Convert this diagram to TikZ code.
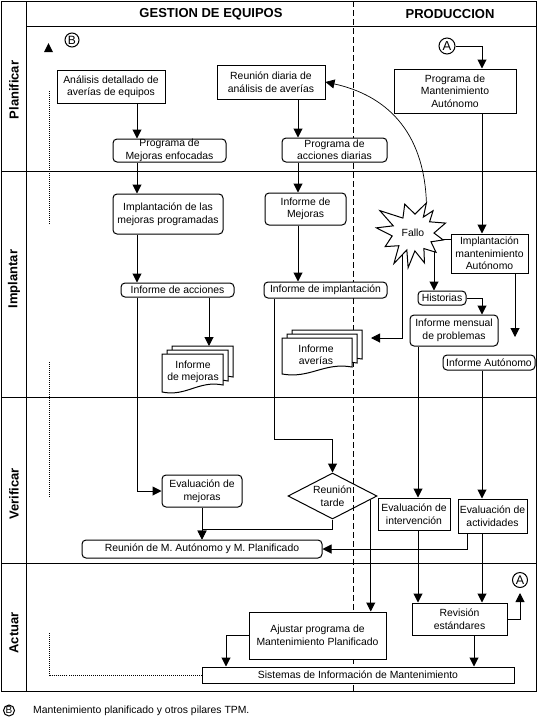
\documentclass[tikz,border=0pt]{standalone}
\usepackage{fontspec}
\setmainfont{Liberation Sans}
\usetikzlibrary{arrows.meta,shapes.geometric,calc}
\newcommand{\docpage}[4]{%
  \filldraw[fill=white,line width=1pt] (#1,#2) -- (#3,#2) -- (#3,{#4-7})
   .. controls ({#3-0.4*(#3-#1)},{#4-12}) and ({#1+0.4*(#3-#1)},{#4+5}) .. (#1,#4) -- cycle;}
\begin{document}
\begin{tikzpicture}[x=1pt,y=-1pt,
  every node/.style={font=\fontsize{10.4}{12.5}\selectfont,inner sep=0pt,align=center},
  ln/.style={line width=1pt},
  box/.style={draw,fill=white,line width=1pt},
  rbox/.style={box,rounded corners=4pt},
  arr/.style={ln,-{Triangle[width=9pt,length=9pt]}},
  hd/.style={font=\fontsize{13}{13}\selectfont\bfseries},
  lane/.style={hd,rotate=90},
  circ/.style={draw,circle,line width=1pt,inner sep=0pt},
  dots/.style={line width=1pt,dash pattern=on 1pt off 1pt},
]
\useasboundingbox (0,0) rectangle (539,724);

% ---------- grid ----------
\draw[ln,dash pattern=on 6pt off 3pt] (353,1) -- (353,691);
\draw[ln] (1,1) rectangle (536,691);
\draw[ln] (26,1) -- (26,691);
\draw[ln] (26,26) -- (536,26);
\draw[ln] (1,171) -- (536,171);
\draw[ln] (1,397) -- (536,397);
\draw[ln] (1,563) -- (536,563);

\node[hd] (h1) at (211,14) {GESTION DE EQUIPOS};
\node[hd] (h2) at (450,14) {PRODUCCION};
\node[lane] (l1) at (14,90) {Planificar};
\node[lane] (l2) at (14,279) {Implantar};
\node[lane] (l3) at (14,494) {Verificar};
\node[lane] (l4) at (14,633) {Actuar};

% ---------- column / row helpers ----------
\coordinate (x137) at (137,0);
\coordinate (x202) at (202,0);
\coordinate (x209) at (209,0);
\coordinate (x226) at (226,0);
\coordinate (x274) at (274,0);
\coordinate (x298) at (298,0);
\coordinate (x418) at (418,0);
\coordinate (x467) at (467,0);
\coordinate (x474) at (474,0);
\coordinate (x482) at (482,0);
\coordinate (x515) at (515,0);
\coordinate (y439) at (0,439);
\coordinate (y529) at (0,529);

% ---------- Planificar ----------
\node[circ,minimum size=14pt,font=\fontsize{12}{12}\selectfont] (cb) at (72,40) {B};
\fill (44,52) -- (53,52) -- (48.5,43) -- cycle;
\node[box,minimum width=108pt,minimum height=33pt] (an) at (111,86.5) {Análisis detallado de\\averías de equipos};
\node[rbox,minimum width=113pt,minimum height=23pt] (pme) at (169.5,150.5) {Programa de\\Mejoras enfocadas};
\node[box,minimum width=108pt,minimum height=34pt] (rda) at (271,82) {Reunión diaria de\\análisis de averías};
\node[rbox,minimum width=105pt,minimum height=24pt] (pad) at (334.5,150) {Programa de\\acciones diarias};
\node[circ,minimum size=16pt,font=\fontsize{13}{13}\selectfont] (ca1) at (447,46) {A};
\node[box,minimum width=122pt,minimum height=44pt] (pma) at (455,91) {Programa de\\Mantenimiento\\Autónomo};

% ---------- Implantar ----------
\node[rbox,minimum width=110pt,minimum height=40pt] (imp) at (168,214) {Implantación de las\\mejoras programadas};
\node[rbox,minimum width=113pt,minimum height=14pt] (ia) at (177.5,290) {Informe de acciones};
\docpage{172}{346}{233}{384}
\docpage{167}{350}{228}{388}
\docpage{162}{354}{223}{392}
\node (im) at (193,372) {Informe\\de mejoras};
\coordinate (imtop) at (209,346);
\node[rbox,minimum width=81pt,minimum height=32pt] (idm) at (305.5,209) {Informe de\\Mejoras};
\node[rbox,minimum width=123pt,minimum height=16pt] (iim) at (325.5,290) {Informe de implantación};
\docpage{292}{330}{362}{366}
\docpage{287}{334}{357}{370}
\docpage{282}{338}{352}{374}
\node (iav) at (316,355) {Informe\\averías};
\coordinate (iavend) at (371,338);

% Fallo explosion
\coordinate (fc) at (413,233);
\begin{scope}[shift={(fc)}]
\filldraw[fill=white,ln] (66:33pt) -- (84:19pt) -- (106:30pt) -- (124:18pt) -- (146:40pt) -- (160:21pt)
  -- (172:37pt) -- (188:21pt) -- (206:31pt) -- (222:19pt) -- (238:36pt) -- (250:18pt)
  -- (262:35pt) -- (276:18pt) -- (291:32pt) -- (305:19pt) -- (320:30pt) -- (334:20pt)
  -- (347:31pt) -- (0:21pt) -- (17:34pt) -- (34:20pt) -- (48:30pt) -- (57:19pt) -- cycle;
\coordinate (fltop) at (66:33pt);
\coordinate (flr) at (347:31pt);
\coordinate (flbr) at (21pt,-18.7pt);
\coordinate (flbl) at (-11pt,-21.9pt);
\end{scope}
\node (fallo) at (fc) {Fallo};

\node[box,minimum width=77pt,minimum height=39pt] (ima) at (489.5,253.5) {Implantación\\mantenimiento\\Autónomo};
\node[rbox,minimum width=48pt,minimum height=14pt] (his) at (442,298) {Historias};
\node[rbox,minimum width=88pt,minimum height=31pt] (imp2) at (454,330.5) {Informe mensual\\de problemas};
\node[rbox,minimum width=92pt,minimum height=15pt] (iaut) at (489,362.5) {Informe Autónomo};
\coordinate (freeend) at (515,337);

% ---------- Verificar ----------
\node[rbox,minimum width=80pt,minimum height=32pt] (em) at (202,491) {Evaluación de\\mejoras};
\node[diamond,draw,ln,shape aspect=2,minimum width=89pt,minimum height=46pt] (rt) at (332.5,496) {Reunión\\tarde};
\node[box,minimum width=72pt,minimum height=32pt] (ei) at (414,514) {Evaluación de\\intervención};
\node[box,minimum width=69pt,minimum height=34pt] (eact) at (492.5,516) {Evaluación de\\actividades};
\node[rbox,minimum width=240pt,minimum height=18pt] (rm) at (202,549) {Reunión de M. Autónomo y M. Planificado};
\coordinate (rtp) at ($(rt.east)!0.15!(rt.south)$);

% ---------- Actuar ----------
\node[box,minimum width=137pt,minimum height=47pt] (aj) at (317.5,635.5) {Ajustar programa de\\Mantenimiento Planificado};
\node[box,minimum width=95pt,minimum height=32pt] (rev) at (459.5,619) {Revisión\\estándares};
\node[circ,minimum size=15pt,font=\fontsize{12.5}{12.5}\selectfont] (ca2) at (520,580) {A};
\node[box,minimum width=312pt,minimum height=16pt] (sis) at (358,675) {Sistemas de Información de Mantenimiento};

% dotted B loop
\draw[dots] (49,91) -- (49,225);
\draw[dots] (49,362) -- (49,497);
\draw[dots] (sis.west) -- (49,675) -- (49,633);

% ---------- connectors ----------
\draw[arr] (an.south -| x137) -- (pme.north -| x137);
\draw[arr] (pme.south -| x137) -- (imp.north -| x137);
\draw[arr] (imp.south -| x137) -- (ia.north -| x137);
\draw[arr] (ia.south -| x137) |- (em.west);
\draw[arr] (ia.south -| x209) -- (imtop);
\draw[arr] (rda.south -| x298) -- (pad.north -| x298);
\draw[arr] (pad.south -| x298) -- (idm.north -| x298);
\draw[arr] (idm.south -| x298) -- (iim.north -| x298);
\draw[arr] (iim.south -| x274) -- (x274 |- y439) -| (rt.north);
\draw[arr] (rt.south) |- (x202 |- y529) -- (rm.north -| x202);
\draw[arr] (em.south) -- (rm.north);
\draw[arr] (eact.south -| x467) |- (rm.east);
\draw[arr] (rtp) -- (rtp |- aj.north);
\draw[arr] (aj.west) -| (sis.north -| x226);
\draw[arr] (imp2.south -| x418) -- (ei.north -| x418);
\draw[arr] (ei.south -| x418) -- (rev.north -| x418);
\draw[arr] (iaut.south -| x482) -- (eact.north -| x482);
\draw[arr] (eact.south -| x482) -- (rev.north -| x482);
\draw[arr,shorten >=5pt] (rev.east) -| (ca2.south);
\draw[arr] (rev.south -| x474) -- (sis.north -| x474);
\draw[arr] (ca1.east) -| (pma.north -| x482);
\draw[arr] (pma.south -| x482) -- (ima.north -| x482);
\draw[arr] (ima.south -| x515) -- (freeend);
\draw[arr] (his.east) -| (imp2.north -| x482);
\draw[arr] (flbr) -- (flbr |- his.north);
\draw[arr] (flbl) |- (iavend);
\draw[ln] (flr) -- (ima.west |- flr);
\draw[arr,line width=0.7pt] (fltop) .. controls (424,130) and (385,95) .. (rda.east);

% ---------- footnote ----------
\node[circ,minimum size=11pt,font=\fontsize{10}{10}\selectfont] (fb) at (9,710.5) {B};
\node[anchor=west] (fn) at (33,710.5) {Mantenimiento planificado y otros pilares TPM.};
\end{tikzpicture}
\end{document}
